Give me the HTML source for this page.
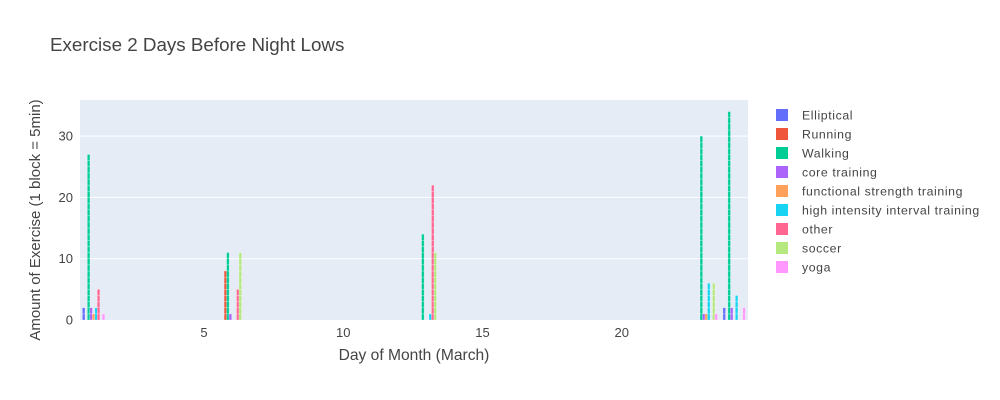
<!DOCTYPE html>
<html><head><meta charset="utf-8"><style>
body{margin:0;background:#fff;font-family:"Liberation Sans",Arial,sans-serif}
</style></head><body>
<svg id="chart" width="1000" height="400" style="display:block">
<rect width="1000" height="400" fill="#fff"/>
<text x="50" y="51" font-size="18.8" fill="#444">Exercise 2 Days Before Night Lows</text>
<rect x="80" y="100" width="668" height="220" fill="#e5ecf6"/>
<g id="grid"></g><g id="bars"></g><g id="axes"></g><g id="legend"></g>
<text x="414" y="360" font-size="15.6" fill="#444" text-anchor="middle">Day of Month (March)</text>
<text transform="translate(40,220) rotate(-90)" font-size="15" fill="#444" text-anchor="middle">Amount of Exercise (1 block = 5min)</text>
</svg>
<script>
const names=["Elliptical","Running","Walking","core training","functional strength training","high intensity interval training","other","soccer","yoga"];
const colors=["#636efa","#EF553B","#00cc96","#ab63fa","#FFA15A","#19d3f3","#FF6692","#B6E880","#FF97FF"];
const days=[1,6,13,23,24];
const elliptical=[2,0,0,0,2];
const running=[0,8,0,0,0];
const walking=[27,11,14,30,34];
const core=[2,1,0,1,2];
const functional=[1,0,0,1,0];
const hiit=[2,0,1,6,4];
const other=[5,5,22,0,0];
const soccer=[0,11,11,6,0];
const yoga=[1,0,0,1,2];
const series=[elliptical,running,walking,core,functional,hiit,other,soccer,yoga];
const xTicks=[5,10,15,20];
const yTicks=[0,10,20,30];
const X=d=>205+(d-5)*27.85;
const Y=v=>320-v*6.13;
const NS="http://www.w3.org/2000/svg";
const mk=(t,a,p)=>{const e=document.createElementNS(NS,t);for(const k in a)e.setAttribute(k,a[k]);p.appendChild(e);return e;};
const grid=document.getElementById('grid'),axes=document.getElementById('axes'),bars=document.getElementById('bars'),leg=document.getElementById('legend');
yTicks.forEach(v=>{
 if(v>0){const g=mk('line',{x1:80,x2:748,y1:Y(v),y2:Y(v),stroke:'#fff','stroke-width':1},grid);
 
 }
 const t=mk('text',{x:73,y:Y(v)+4.5,'font-size':13,fill:'#444','text-anchor':'end'},axes);t.textContent=v;
 
 
});
xTicks.forEach(v=>{
 const t=mk('text',{x:X(v)-1,y:337,'font-size':13,fill:'#444','text-anchor':'middle'},axes);t.textContent=v;
 
 
});
const bw=2.6;
series.forEach((s,i)=>{
 s.forEach((v,j)=>{
  const cx=X(days[j])+(i-4)*2.48;
  for(let k=0;k<v;k++){
   const r=mk('rect',{x:cx-bw/2,y:Y(k+1),width:bw,height:6.13,fill:colors[i],stroke:'rgba(255,255,255,0.5)','stroke-width':0.5},bars);
   
   
  }
 });
});
names.forEach((n,i)=>{
 const y=115+i*19;
 const r=mk('rect',{x:776,y:y-6,width:12,height:12,fill:colors[i]},leg);
 
 
 const t=mk('text',{x:802,y:y+4.5,'font-size':12.3,fill:'#444','letter-spacing':'0.6'},leg);t.textContent=n;
 
 
});
</script>
</body></html>
